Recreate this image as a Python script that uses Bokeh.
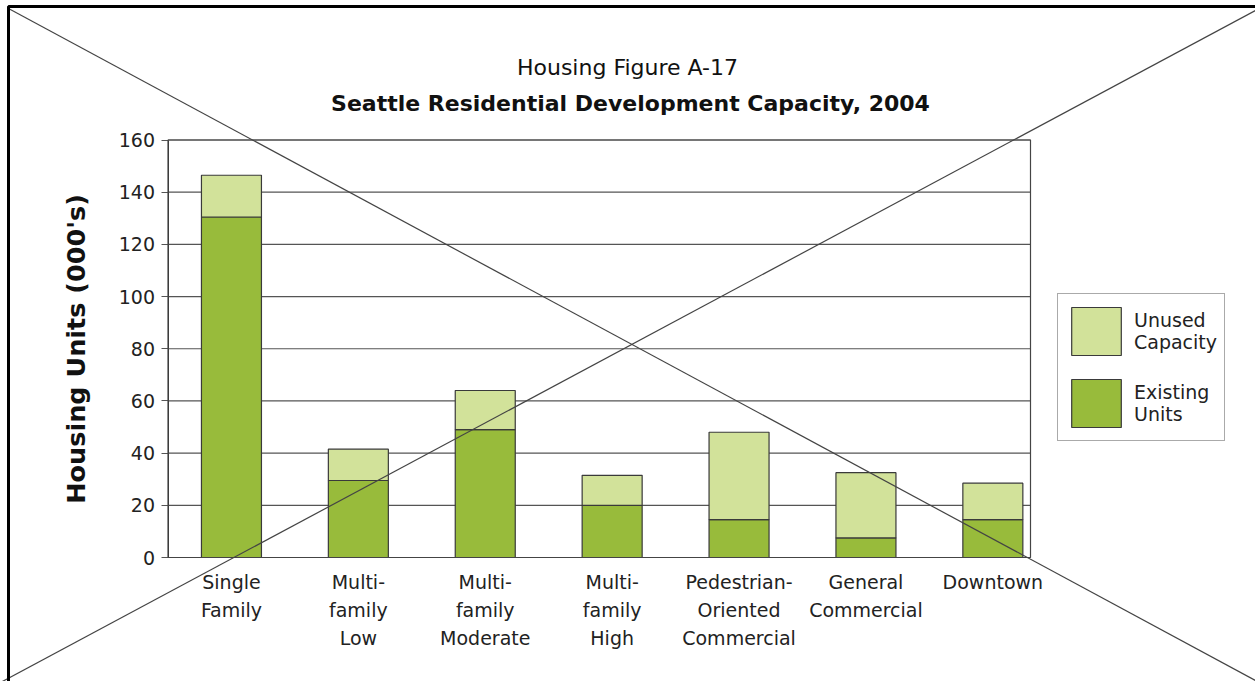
from bokeh.plotting import figure
from bokeh.models import (Range1d, Legend, LegendItem, PolyAnnotation, BoxAnnotation,
                          Label, FixedTicker, ColumnDataSource)
from bokeh.core.properties import value
from bokeh.embed import file_html
from bokeh.resources import INLINE

categories = ["Single Family", "Multi-family Low", "Multi-family Moderate",
              "Multi-family High", "Pedestrian-Oriented Commercial",
              "General Commercial", "Downtown"]
tick_labels = ["Single\nFamily", "Multi-\nfamily\nLow", "Multi-\nfamily\nModerate",
               "Multi-\nfamily\nHigh", "Pedestrian-\nOriented\nCommercial",
               "General\nCommercial", "Downtown"]
existing_units = [130.5, 29.5, 49, 20, 14.5, 7.5, 14.5]
unused_capacity = [16, 12, 15, 11.5, 33.5, 25, 14]
y_ticks = [0, 20, 40, 60, 80, 100, 120, 140, 160]
title_top = "Housing Figure A-17"
title_main = "Seattle Residential Development Capacity, 2004"
y_title = "Housing Units (000's)"
legend_labels = ["Unused\nCapacity", "Existing\nUnits"]

W, H = 1255, 681
FONT = "DejaVu Sans"
# layout constants (pixels): plot-area edges and category pitch
PL, PR, PT, PB = 167.5, 1030, 139.5, 557
PITCH = 126.9
BAR_PX = 60
n = len(categories)
y_max = y_ticks[-1]
ppu_y = (PB - PT) / y_max
x_right = (PR - PL) / PITCH  # right edge of the plot area in data units

src = ColumnDataSource(dict(x=[i + 0.5 for i in range(n)], cat=categories,
                            existing=existing_units, unused=unused_capacity))

p = figure(width=W, height=H, output_backend="svg", toolbar_location=None,
           x_range=Range1d(-PL / PITCH, (W - PL) / PITCH),
           y_range=Range1d(-(H - PB) / ppu_y, y_max + PT / ppu_y),
           min_border=0, min_border_left=0, min_border_right=0,
           min_border_top=0, min_border_bottom=0)
p.title.visible = False
p.xgrid.visible = False
p.ygrid.visible = False
p.background_fill_color = "white"
p.border_fill_color = "white"
p.outline_line_color = None

# gridlines (bounded to the plot area)
p.segment(x0=0, x1=x_right, y0=y_ticks, y1=y_ticks, line_color="#555555", line_width=1.2)

rs = p.vbar_stack(["existing", "unused"], x="x", width=BAR_PX / PITCH, source=src,
                  fill_color=["#98bb3b", "#d2e29a"], line_color="#3a3a3a", line_width=1.2)

# plot-area frame
p.add_layout(BoxAnnotation(left=0, right=x_right, bottom=0, top=y_max, fill_alpha=0,
                           line_color="#444444", line_alpha=1, line_width=1.2))

# y axis, fixed to the plot area
p.yaxis.fixed_location = 0
p.yaxis.bounds = (0, y_max)
p.yaxis.ticker = FixedTicker(ticks=y_ticks)
p.yaxis.axis_label = y_title
p.yaxis.axis_label_text_font = FONT
p.yaxis.axis_label_text_font_size = "25.5px"
p.yaxis.axis_label_text_font_style = "bold"
p.yaxis.axis_label_text_color = "#111111"
p.yaxis.axis_label_standoff = 25
p.yaxis.major_label_text_font = FONT
p.yaxis.major_label_text_font_size = "19px"
p.yaxis.major_label_text_color = "#222222"
p.yaxis.major_label_standoff = 6
p.yaxis.major_tick_out = 7
p.yaxis.major_tick_in = 0
p.yaxis.minor_tick_line_color = None
p.yaxis.axis_line_color = "#333333"
p.yaxis.major_tick_line_color = "#555555"
p.xaxis.visible = False

# category labels (multi-line)
lx, ly, lt, lo = [], [], [], []
for i, lab in enumerate(tick_labels):
    for j, line in enumerate(lab.split("\n")):
        lx.append(i + 0.5)
        ly.append(0)
        lt.append(line)
        lo.append(24 + 28 * j)
p.text(x="x", y="y", text="t", y_offset="o",
       source=ColumnDataSource(dict(x=lx, y=ly, t=lt, o=lo)),
       text_font=value(FONT), text_font_size="19px", text_color="#222222",
       text_align="center", text_baseline="middle")

# titles
p.add_layout(Label(x=627, y=67, x_units="canvas", y_units="canvas", text=title_top,
                   text_font=FONT, text_font_size="22px", text_color="#111111",
                   text_align="center", text_baseline="middle"))
p.add_layout(Label(x=630, y=103, x_units="canvas", y_units="canvas", text=title_main,
                   text_font=FONT, text_font_size="22px", text_font_style="bold",
                   text_color="#111111", text_align="center", text_baseline="middle"))

# legend
legend = Legend(items=[LegendItem(label=legend_labels[0], renderers=[rs[1]]),
                       LegendItem(label=legend_labels[1], renderers=[rs[0]])],
                location=(1057, H - 441), orientation="vertical",
                label_text_font=FONT, label_text_font_size="19px", label_text_color="#222222",
                glyph_width=62, glyph_height=60, label_standoff=7, padding=7, spacing=12,
                margin=0, border_line_color="#555555", border_line_width=1.2,
                background_fill_color="white", background_fill_alpha=1)
p.add_layout(legend, "center")

# diagonal cross and page border
p.add_layout(PolyAnnotation(xs=[8, W], ys=[8, 680], xs_units="canvas", ys_units="canvas",
                            fill_alpha=0, line_color="#444444", line_alpha=1, line_width=1.2))
p.add_layout(PolyAnnotation(xs=[0, W], ys=[682, 10], xs_units="canvas", ys_units="canvas",
                            fill_alpha=0, line_color="#444444", line_alpha=1, line_width=1.2))
p.add_layout(PolyAnnotation(xs=[8, W + 20, W + 20, 8], ys=[6, 6, H + 20, H + 20],
                            xs_units="canvas", ys_units="canvas",
                            fill_alpha=0, line_color="black", line_alpha=1, line_width=3))

open("out.html", "w").write(file_html(p, INLINE))
